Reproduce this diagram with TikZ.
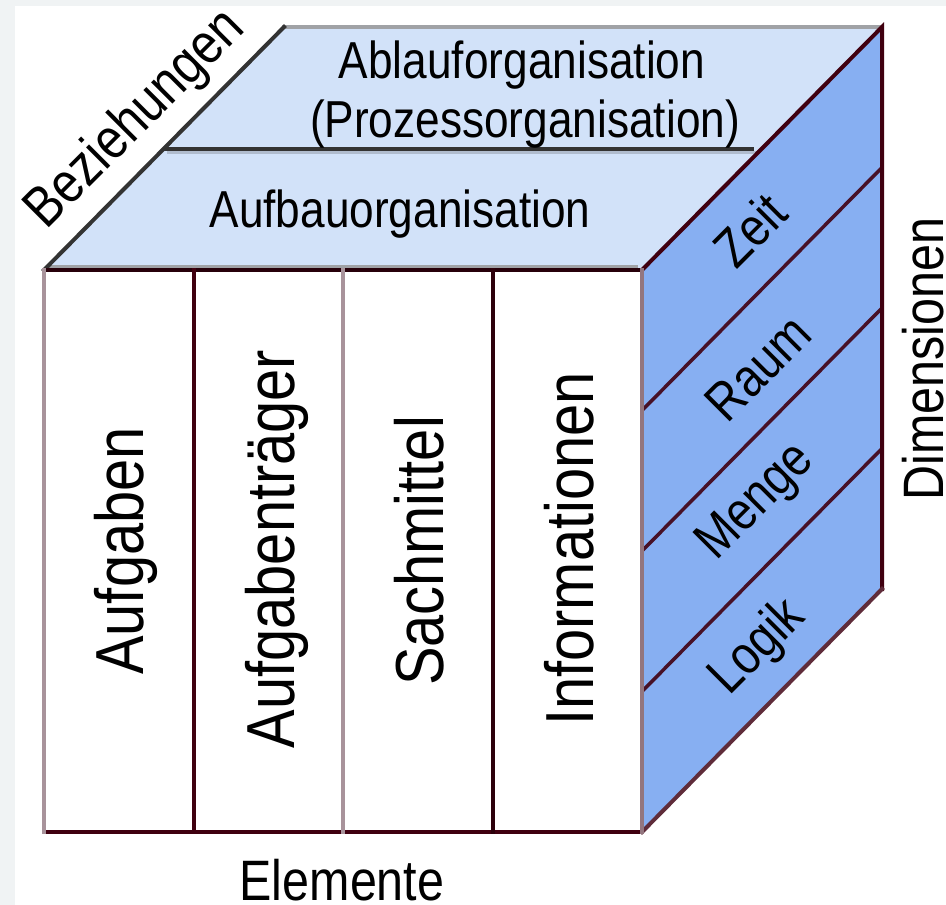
\documentclass[tikz,border=0pt]{standalone}
\usepackage{fontspec}
\usepackage{tikz}
\usetikzlibrary{calc}
\newfontfamily\cubefont[FakeStretch=0.85]{Liberation Sans}
\definecolor{pagegraye}{HTML}{F0F3F4}
\definecolor{topcolore}{HTML}{D2E2F9}
\definecolor{sidecolore}{HTML}{87AFF2}
\definecolor{darkedgee}{HTML}{400010}
\definecolor{mauveedgee}{HTML}{A8939B}
\definecolor{backedgee}{HTML}{A0A2A6}
\definecolor{shadeedgee}{HTML}{B0BCCE}
\colorlet{pagegray}{pagegraye}
\colorlet{topcolor}{topcolore}
\colorlet{sidecolor}{sidecolore}
\colorlet{darkedge}{darkedgee}
\colorlet{mauveedge}{mauveedgee}
\colorlet{backedge}{backedgee}
\colorlet{shadeedge}{shadeedgee}
\tikzstyle{cubeline} = [
    line width=4pt,
    line cap=rect
    ]
\tikzstyle{bandline} = [
    draw=darkedge!90!sidecolor,
    line width=3.5pt
    ]
\tikzstyle{facelabel} = [
    font=\cubefont\fontsize{52}{60}\selectfont,
    inner sep=0pt,
    anchor=base
    ]
\tikzstyle{columnlabel} = [
    font=\cubefont\fontsize{68}{76}\selectfont,
    inner sep=0pt,
    rotate=90,
    anchor=base
    ]
\tikzstyle{bandlabel} = [
    font=\cubefont\fontsize{54}{60}\selectfont,
    inner sep=0pt,
    rotate=45
    ]
\tikzstyle{axislabel} = [
    font=\cubefont\fontsize{57}{64}\selectfont,
    inner sep=0pt
    ]

\begin{document}
\begin{tikzpicture}[x=1pt,y=-1pt]
\useasboundingbox (0,0) rectangle (946,905);
\clip (0,0) rectangle (946,905);
\fill[pagegray] (0,0) rectangle (946,905);
\fill[white] (15,6) rectangle (946,905);

% corners of the cube
\coordinate (ftl) at (44,270);
\coordinate (ftr) at (642,270);
\coordinate (fbr) at (642,832);
\coordinate (fbl) at (44,832);
\coordinate (btl) at (284,27);
\coordinate (btr) at (882,27);
\coordinate (bbr) at (882,589);
\coordinate (tml) at ($(ftl)!0.5!(btl)$);
\coordinate (tmr) at ($(ftr)!0.5!(btr)$);

\fill[topcolor] (ftl) -- (btl) -- (btr) -- (ftr) -- cycle;
\fill[sidecolor] (ftr) -- (btr) -- (bbr) -- (fbr) -- cycle;

% top face
\draw[cubeline, backedge] (btl) -- (btr);
\draw[line width=3pt, shadeedge] ($(tml)+(3,4)$) -- ($(tmr)+(-4,4)$);
\draw[line width=4pt, black!80] (tml) -- ($(tmr)+(-8,0)$);
\draw[line width=3pt, backedge] ($(ftl)+(4,-4)$) -- ($(ftr)+(-4,-4)$);
\draw[cubeline, black!80] (ftl) -- (btl);

% right face
\draw[bandline] ($(ftr)!0.25!(fbr)$) -- ($(btr)!0.25!(bbr)$);
\draw[bandline] ($(ftr)!0.5!(fbr)$) -- ($(btr)!0.5!(bbr)$);
\draw[bandline] ($(ftr)!0.75!(fbr)$) -- ($(btr)!0.75!(bbr)$);
\draw[cubeline, darkedge] (ftr) -- (btr) -- (bbr);
\draw[cubeline, darkedge!70!mauveedge] (bbr) -- (fbr);

% front face
\draw[cubeline, darkedge!60!black] (ftl) -- (ftr);
\draw[cubeline, darkedge] (fbl) -- (fbr);
\draw[cubeline, mauveedge] (ftl) -- (fbl);
\draw[cubeline, mauveedge!80!darkedge] (ftr) -- (fbr);
\draw[cubeline, darkedge] ($(ftl)!0.25!(ftr)$) -- ($(fbl)!0.25!(fbr)$);
\draw[cubeline, mauveedge] ($(ftl)!0.5!(ftr)$) -- ($(fbl)!0.5!(fbr)$);
\draw[cubeline, darkedge!70!black] ($(ftl)!0.75!(ftr)$) -- ($(fbl)!0.75!(fbr)$);

\node[facelabel] (ablauf) at (522,78) {Ablauforganisation};
\node[facelabel] (prozess) at (525,137) {(Prozessorganisation)};
\node[facelabel] (aufbau) at (400,227) {Aufbauorganisation};

\node[columnlabel] (aufgaben) at (143,551) {Aufgaben};
\node[columnlabel] (traeger) at (294,549) {Aufgabenträger};
\node[columnlabel] (sachmittel) at (443,551) {Sachmittel};
\node[columnlabel] (informationen) at (593,549) {Informationen};

\node[bandlabel] (zeit) at (750,230) {Zeit};
\node[bandlabel] (raum) at (758,368) {Raum};
\node[bandlabel] (menge) at (757,503) {Menge};
\node[bandlabel] (logik) at (758,648) {Logik};

\node[axislabel, rotate=45] (beziehungen) at (136,120) {Beziehungen};
\node[axislabel, rotate=90, anchor=base] (dimensionen) at (943,359) {Dimensionen};
\node[axislabel, anchor=base] (elemente) at (342,900) {Elemente};
\end{tikzpicture}
\end{document}
